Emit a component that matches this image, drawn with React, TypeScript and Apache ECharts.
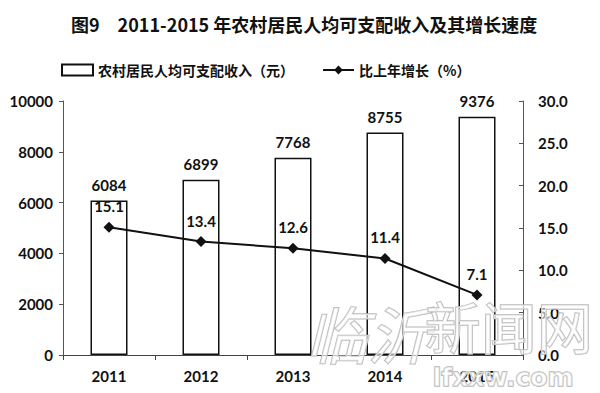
import React, { useEffect, useRef } from "react";
import * as echarts from "echarts";

const years = ["2011", "2012", "2013", "2014", "2015"];
const income = [6084, 6899, 7768, 8755, 9376];
const growth = [15.1, 13.4, 12.6, 11.4, 7.1];
const titleText = "图9　2011-2015 年农村居民人均可支配收入及其增长速度";
const barName = "农村居民人均可支配收入（元）";
const lineName = "比上年增长（%）";

const LATIN = "Lato, 'Open Sans', sans-serif";
const CJK = "'Noto Sans CJK SC', sans-serif";
const FS = 15;

export default function App() {
  const ref = useRef<HTMLDivElement>(null);
  useEffect(() => {
    if (!ref.current) return;
    const chart = echarts.init(ref.current, undefined, { renderer: "svg" });
    chart.setOption({
      animation: false,
      backgroundColor: "#fff",
      title: {
        text: titleText,
        left: 66,
        top: 10,
        textStyle: { fontFamily: CJK, fontSize: 18, fontWeight: "bold", color: "#111" },
      },
      legend: {
        left: 56,
        top: 58,
        itemGap: 28,
        itemWidth: 31,
        itemHeight: 11,
        textStyle: { fontFamily: CJK, fontSize: 14, fontWeight: "bold", color: "#111" },
        data: [
          { name: barName, icon: "rect" },
          { name: lineName },
        ],
      },
      grid: { left: 63, right: 77, top: 101, bottom: 38 },
      xAxis: {
        type: "category",
        data: years,
        axisLine: { lineStyle: { color: "#444", width: 1 } },
        axisTick: { show: true, length: 5, lineStyle: { color: "#444" } },
        axisLabel: { margin: 13, fontFamily: LATIN, fontSize: FS, fontWeight: "bold", color: "#111" },
      },
      yAxis: [
        {
          type: "value",
          min: 0,
          max: 10000,
          interval: 2000,
          axisLine: { show: true, lineStyle: { color: "#555" } },
          axisTick: { show: true, length: 4, lineStyle: { color: "#555" } },
          splitLine: { show: false },
          axisLabel: {
            margin: 10,
            fontFamily: LATIN,
            fontSize: FS,
            fontWeight: "bold",
            color: "#111",
            formatter: (v: number) => String(v),
          },
        },
        {
          type: "value",
          min: 0,
          max: 30,
          interval: 5,
          axisLine: { show: true, lineStyle: { color: "#555" } },
          axisTick: { show: true, inside: true, length: 4, lineStyle: { color: "#555" } },
          splitLine: { show: false },
          axisLabel: {
            margin: 15,
            fontFamily: LATIN,
            fontSize: FS,
            fontWeight: "bold",
            color: "#111",
            formatter: (v: number) => v.toFixed(1),
          },
        },
      ],
      series: [
        {
          name: barName,
          type: "bar",
          data: income,
          barWidth: 37,
          yAxisIndex: 0,
          itemStyle: { color: "#fff", borderColor: "#111", borderWidth: 1.5 },
          label: {
            show: true,
            position: "top",
            distance: 8,
            fontFamily: LATIN,
            fontSize: FS,
            fontWeight: "bold",
            color: "#111",
          },
        },
        {
          name: lineName,
          type: "line",
          data: growth,
          yAxisIndex: 1,
          symbol: "diamond",
          symbolSize: 11,
          lineStyle: { color: "#111", width: 2 },
          itemStyle: { color: "#111" },
          label: {
            show: true,
            position: "top",
            distance: 8,
            fontFamily: LATIN,
            fontSize: FS,
            fontWeight: "bold",
            color: "#111",
            formatter: (p: any) => Number(p.value).toFixed(1),
          },
        },
      ],
      graphic: [
        {
          type: "text",
          left: 305,
          top: 300,
          z: 100,
          silent: true,
          style: {
            text: "临沂",
            font: "italic 62px 'Noto Sans CJK SC'",
            fill: "rgba(255,255,255,0.6)",
            stroke: "#b8b8b8",
            lineWidth: 1.5,
          },
        },
        {
          type: "text",
          left: 424,
          top: 296,
          z: 100,
          silent: true,
          style: {
            text: "新闻网",
            font: "56px 'Noto Sans CJK SC'",
            fill: "rgba(255,255,255,0.6)",
            stroke: "#b8b8b8",
            lineWidth: 1.5,
          },
        },
        {
          type: "text",
          left: 432,
          top: 364,
          z: 100,
          silent: true,
          style: {
            text: "lfxxw.com",
            font: "bold 25px 'DejaVu Sans'",
            fill: "rgba(255,255,255,0.6)",
            stroke: "#b8b8b8",
            lineWidth: 1.5,
          },
        },
      ],
    });
    return () => chart.dispose();
  }, []);
  return (
    <div
      ref={ref}
      style={{ position: "fixed", left: 0, top: 0, width: 600, height: 393 }}
    />
  );
}
